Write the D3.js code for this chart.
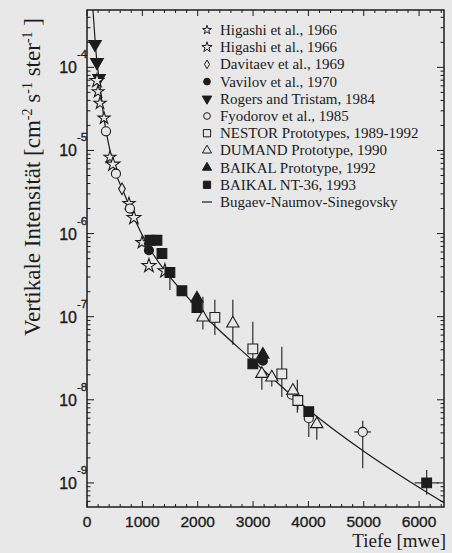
<!DOCTYPE html>
<html>
<head>
<meta charset="utf-8">
<script src="https://cdn.jsdelivr.net/npm/d3@7"></script>
<style>
  html, body { margin: 0; padding: 0; background: #e8e8e8; }
  svg { display: block; }
</style>
</head>
<body>
<svg id="chart" width="452" height="553"></svg>
<script>
// Depth in metres water equivalent, vertical intensity in cm^-2 s^-1 sr^-1
const higashiA = [[199, 5.1e-5], [235, 3.7e-5], [307, 2.45e-5], [415, 8.3e-6], [758, 2.3e-6], [993, 7.8e-7]];
const higashiB = [[180, 6.9e-5], [469, 6.8e-6], [848, 1.55e-6], [1119, 4.1e-7], [1408, 3.55e-7]];
const davitaev = [[632, 3.45e-6]];
const vavilov = [[1119, 6.3e-7], [3177, 2.95e-8]];
const rogers = [[144, 1.9e-4], [180, 1.15e-4], [217, 7.4e-5]];
const fyodorov = [[343, 1.7e-5], [523, 5.25e-6], [776, 2.0e-6], [3700, 1.15e-8], [4007, 6.0e-9], [4982, 4.1e-9]];
const nestor = [[2310, 9.8e-8], [2996, 4.1e-8], [3520, 2.05e-8], [3809, 9.8e-9]];
const dumand = [[2094, 9.8e-8], [2635, 8.3e-8], [3159, 2.05e-8], [3339, 1.86e-8], [3720, 1.29e-8], [4152, 5.1e-9]];
const baikalProto = [[1986, 1.66e-7], [3177, 3.5e-8]];
const baikalNT36 = [[1137, 8.3e-7], [1264, 8.3e-7], [1354, 5.75e-7], [1498, 3.4e-7], [1715, 2.05e-7], [1986, 1.29e-7], [2996, 2.7e-8], [4007, 7.2e-9], [6137, 1.0e-9]];

// Vertical error bars [depth, low, high]
const vErrors = [
  [1498, 2.1e-7, 3.4e-7], [2094, 7.0e-8, 1.74e-7], [2310, 6.0e-8, 1.6e-7], [2635, 4.6e-8, 1.6e-7],
  [2996, 2.64e-8, 8.7e-8], [3159, 1.32e-8, 2.05e-8], [3339, 1.45e-8, 1.86e-8], [3520, 1.08e-8, 4.35e-8],
  [3800, 7.0e-9, 1.74e-8], [3809, 7.6e-9, 9.8e-9], [4007, 3.57e-9, 6.0e-9], [4152, 3.3e-9, 6.2e-9],
  [4982, 1.5e-9, 5.6e-9], [6137, 7.2e-10, 1.43e-9]
];
// Horizontal error bars [intensity, left, right]
const hErrors = [[4.1e-9, 4830, 5130], [1.0e-9, 5920, 6350]];

// Bugaev-Naumov-Sinegovsky depth-intensity relation
const bnsCurve = [[108, 4.9e-4], [180, 1.15e-4], [217, 7.4e-5], [307, 2.45e-5], [415, 1.0e-5], [523, 5.25e-6],
                  [650, 3.3e-6], [848, 1.55e-6], [1100, 7.2e-7], [1408, 3.55e-7], [1715, 2.05e-7], [2040, 1.17e-7],
                  [3000, 2.95e-8], [4000, 7.6e-9], [5000, 2.4e-9], [6450, 5.75e-10]];

const xTicks = [0, 1000, 2000, 3000, 4000, 5000, 6000];
const yExponents = [-4, -5, -6, -7, -8, -9];

const legendItems = [
  ["starA", "Higashi et al., 1966"],
  ["starB", "Higashi et al., 1966"],
  ["diamond", "Davitaev et al., 1969"],
  ["dot", "Vavilov et al., 1970"],
  ["tridown", "Rogers and Tristam, 1984"],
  ["circle", "Fyodorov et al., 1985"],
  ["square", "NESTOR Prototypes, 1989-1992"],
  ["triangle", "DUMAND Prototype, 1990"],
  ["trifill", "BAIKAL Prototype, 1992"],
  ["sqfill", "BAIKAL NT-36, 1993"],
  ["line", "Bugaev-Naumov-Sinegovsky"]
];

const ink = "#1c1c1c";
const paper = "#e8e8e8";
const svg = d3.select("#chart");
const m = { left: 87, right: 444, top: 10, bottom: 507 };

const x = d3.scaleLinear().domain([0, 6450]).range([m.left, m.right]);
const y = d3.scaleLog().domain([Math.pow(10, -9.29), Math.pow(10, -3.31)]).range([m.bottom, m.top]);

// frame
svg.append("rect").attr("x", m.left).attr("y", m.top)
  .attr("width", m.right - m.left).attr("height", m.bottom - m.top)
  .attr("fill", "none").attr("stroke", ink).attr("stroke-width", 1.5);

// x ticks on bottom and top, pointing inward
const xMinor = d3.range(0, 6401, 200);
const tickG = svg.append("g").attr("stroke", ink).attr("stroke-width", 1);
xMinor.forEach(v => {
  const len = v % 1000 === 0 ? 6 : 3;
  tickG.append("line").attr("x1", x(v)).attr("x2", x(v)).attr("y1", m.bottom).attr("y2", m.bottom - len);
  tickG.append("line").attr("x1", x(v)).attr("x2", x(v)).attr("y1", m.top).attr("y2", m.top + len);
});
// y ticks on left and right
const yMin = y.domain()[0], yMax = y.domain()[1];
for (let e = -10; e <= -3; e++) {
  for (let k = 1; k <= 9; k++) {
    const v = k * Math.pow(10, e);
    if (v < yMin || v > yMax) continue;
    const len = k === 1 ? 7 : 3.5;
    tickG.append("line").attr("x1", m.left).attr("x2", m.left + len).attr("y1", y(v)).attr("y2", y(v));
    tickG.append("line").attr("x1", m.right).attr("x2", m.right - len).attr("y1", y(v)).attr("y2", y(v));
  }
}

// tick labels
const sans = "'Liberation Sans', Arial, sans-serif";
const serif = "'Liberation Serif', 'Times New Roman', serif";
svg.append("g").selectAll("text").data(xTicks).join("text")
  .attr("x", d => x(d)).attr("y", 527)
  .attr("text-anchor", "middle").attr("font-family", sans).attr("font-size", 15.5).attr("fill", ink)
  .attr("stroke", ink).attr("stroke-width", 0.35)
  .text(d => d);

const yl = svg.append("g").attr("font-family", sans).attr("fill", ink).attr("stroke", ink).attr("stroke-width", 0.35);
yExponents.forEach(e => {
  const yy = y(Math.pow(10, e));
  yl.append("text").attr("x", 77).attr("y", yy + 6).attr("text-anchor", "end").attr("font-size", 16).text("10");
  yl.append("text").attr("x", 77).attr("y", yy - 9).attr("text-anchor", "start").attr("font-size", 11.5).text(e);
});

// axis titles
svg.append("text").attr("x", 446).attr("y", 547).attr("text-anchor", "end")
  .attr("font-family", serif).attr("font-size", 19).attr("fill", ink).text("Tiefe [mwe]");

const yt = svg.append("text").attr("transform", "translate(40,177) rotate(-90)")
  .attr("text-anchor", "middle").attr("font-family", serif).attr("font-size", 23).attr("fill", ink);
yt.append("tspan").text("Vertikale Intensität  [cm");
yt.append("tspan").attr("dy", -8).attr("font-size", 14).text("-2");
yt.append("tspan").attr("dy", 8).text(" s");
yt.append("tspan").attr("dy", -8).attr("font-size", 14).text("-1");
yt.append("tspan").attr("dy", 8).text(" ster");
yt.append("tspan").attr("dy", -8).attr("font-size", 14).text("-1");
yt.append("tspan").attr("dy", 8).text(" ]");

const plot = svg.append("g");

// model curve
plot.append("path").datum(bnsCurve)
  .attr("d", d3.line().x(d => x(d[0])).y(d => y(d[1])).curve(d3.curveMonotoneX))
  .attr("fill", "none").attr("stroke", ink).attr("stroke-width", 1.2);

// error bars
const errG = plot.append("g").attr("stroke", ink).attr("stroke-width", 1.1);
vErrors.forEach(d => errG.append("line").attr("x1", x(d[0])).attr("x2", x(d[0])).attr("y1", y(d[1])).attr("y2", y(d[2])));
hErrors.forEach(d => errG.append("line").attr("x1", x(d[1])).attr("x2", x(d[2])).attr("y1", y(d[0])).attr("y2", y(d[0])));

// symbol shapes
const sym = {
  starA: { type: d3.symbolStar, size: 45, fill: "none" },
  starB: { type: d3.symbolStar, size: 60, fill: "none" },
  diamond: { type: d3.symbolDiamond, size: 40, fill: "none" },
  dot: { type: d3.symbolCircle, size: 65, fill: ink },
  tridown: { type: d3.symbolTriangle, size: 70, fill: ink, rot: 180 },
  circle: { type: d3.symbolCircle, size: 65, fill: "none" },
  square: { type: d3.symbolSquare, size: 95, fill: "none" },
  triangle: { type: d3.symbolTriangle, size: 65, fill: "none" },
  trifill: { type: d3.symbolTriangle, size: 65, fill: ink },
  sqfill: { type: d3.symbolSquare, size: 95, fill: ink }
};

function drawSeries(data, key) {
  const s = sym[key];
  plot.append("g").selectAll("path").data(data).join("path")
    .attr("transform", d => `translate(${x(d[0])},${y(d[1])}) rotate(${s.rot || 0})`)
    .attr("d", d3.symbol(s.type, s.size))
    .attr("fill", s.fill === "none" ? paper : s.fill)
    .attr("stroke", ink).attr("stroke-width", 1.1);
}

drawSeries(rogers, "tridown");
drawSeries(higashiA, "starA");
drawSeries(higashiB, "starB");
drawSeries(davitaev, "diamond");
drawSeries(fyodorov, "circle");
drawSeries(vavilov, "dot");
drawSeries(dumand, "triangle");
drawSeries(nestor, "square");
drawSeries(baikalProto, "trifill");
drawSeries(baikalNT36, "sqfill");

// legend
const lg = svg.append("g").attr("transform", "translate(207,30)");
legendItems.forEach((it, i) => {
  const row = lg.append("g").attr("transform", `translate(0,${i * 17.2})`);
  if (it[0] === "line") {
    row.append("line").attr("x1", -5).attr("x2", 5).attr("y1", 0).attr("y2", 0).attr("stroke", ink).attr("stroke-width", 1.2);
  } else {
    const s = sym[it[0]];
    row.append("path").attr("transform", `rotate(${s.rot || 0})`)
      .attr("d", d3.symbol(s.type, s.size * 0.55))
      .attr("fill", s.fill === "none" ? "none" : s.fill).attr("stroke", ink).attr("stroke-width", 1);
  }
  row.append("text").attr("x", 13).attr("y", 5).attr("font-family", serif).attr("font-size", 15)
    .attr("fill", ink).text(it[1]);
});
</script>
</body>
</html>
